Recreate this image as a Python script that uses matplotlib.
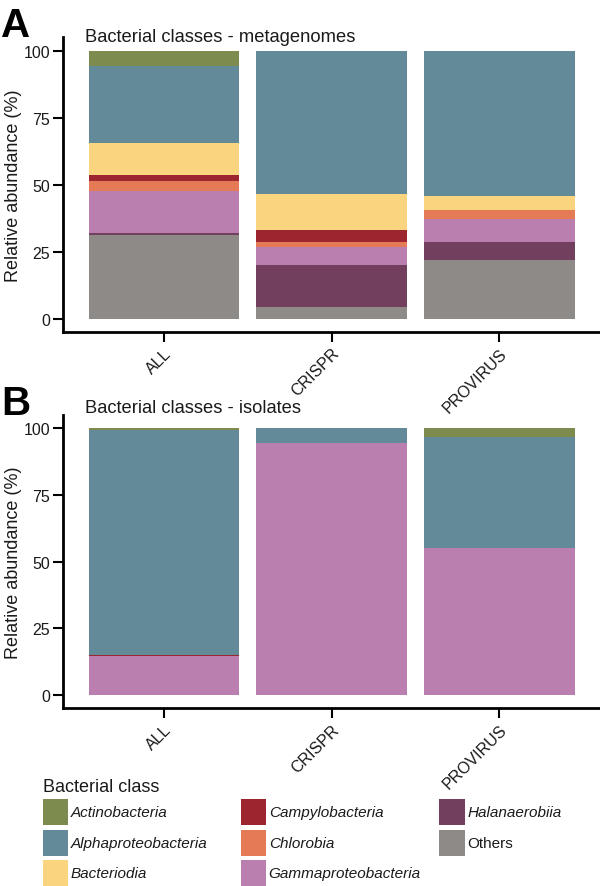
import numpy as np
import matplotlib.pyplot as plt
from matplotlib.patches import Rectangle

plt.rcParams['font.family'] = ['Liberation Sans', 'DejaVu Sans']

groups = ["ALL", "CRISPR", "PROVIRUS"]
classes = ["Actinobacteria", "Alphaproteobacteria", "Bacteriodia",
           "Campylobacteria", "Chlorobia", "Gammaproteobacteria",
           "Halanaerobiia", "Others"]
class_colors = ["#7e8b4f", "#628a99", "#fad47e", "#9d2530",
                "#e57b56", "#ba7faf", "#723f5e", "#8e8a87"]

# relative abundance (%), one value per class in the order above
meta_all = [5.9, 28.6, 12.0, 2.0, 4.0, 15.5, 1.0, 31.0]
meta_crispr = [0.0, 53.4, 13.4, 4.5, 2.1, 6.8, 15.4, 4.4]
meta_provirus = [0.0, 54.2, 5.3, 0.0, 3.5, 8.3, 6.8, 21.9]

iso_all = [0.7, 84.4, 0.0, 0.3, 0.0, 14.6, 0.0, 0.0]
iso_crispr = [0.0, 5.5, 0.0, 0.0, 0.0, 94.5, 0.0, 0.0]
iso_provirus = [3.4, 41.5, 0.0, 0.0, 0.0, 55.1, 0.0, 0.0]

W, H = 600, 887
fig = plt.figure(figsize=(W / 100, H / 100), dpi=100)


def px(x, y):
    # pixel position (from top-left) -> figure fraction
    return x / W, 1 - y / H


def draw_panel(top_px, bottom_px, columns, title, letter, title_y, letter_y):
    ax = fig.add_axes([63.4 / W, 1 - bottom_px / H, 1 - 63.4 / W, (bottom_px - top_px) / H])
    x = np.arange(1, len(groups) + 1)
    bottom = np.zeros(len(groups))
    # ggplot stacks the first level on top, so draw from the last class up
    for i in reversed(range(len(classes))):
        vals = np.array([col[i] for col in columns])
        ax.bar(x, vals, width=0.9, bottom=bottom, color=class_colors[i], linewidth=0)
        bottom += vals
    ax.set_xlim(0.4, 3.6)
    ax.set_ylim(-5, 105)
    ax.set_yticks([0, 25, 50, 75, 100])
    ax.set_xticks(x)
    ax.set_xticklabels(groups, rotation=45, ha='right', va='top', rotation_mode='anchor')
    for s in ['top', 'right']:
        ax.spines[s].set_visible(False)
    for s in ['left', 'bottom']:
        ax.spines[s].set_linewidth(2)
    ax.tick_params(length=7, width=1.5, labelsize=11.5, pad=2.5, labelcolor='#1a1a1a')
    fig.text(*px(85, title_y), title, fontsize=13.2, va='baseline', color='#1a1a1a')
    fig.text(*px(1, letter_y), letter, fontsize=29, fontweight='bold', va='baseline')
    fig.text(*px(14, (top_px + bottom_px) / 2), 'Relative abundance (%)', rotation=90,
             ha='center', va='center', fontsize=13, color='#1a1a1a')
    return ax


draw_panel(38.3, 332.9, [meta_all, meta_crispr, meta_provirus],
           "Bacterial classes - metagenomes", "A", 41.7, 36.7)
draw_panel(416.0, 709.3, [iso_all, iso_crispr, iso_provirus],
           "Bacterial classes - isolates", "B", 413.3, 415.0)

# --- legend, laid out like the ggplot guide ---
fig.text(*px(43.3, 792), "Bacterial class", fontsize=13, va='baseline', color='#1a1a1a')
col_x = [42.7, 240.7, 439.3]
row_y = [813.3, 843.6, 874.0]
for i, (name, c) in enumerate(zip(classes, class_colors)):
    cx = col_x[i // 3]
    cy = row_y[i % 3]
    x0, y0 = px(cx, cy + 13)
    fig.add_artist(Rectangle((x0, y0), 25.6 / W, 26 / H, transform=fig.transFigure,
                             facecolor=c, edgecolor='none'))
    fig.text(*px(cx + 28, cy), name, fontsize=11, va='center', color='#1a1a1a',
             fontstyle='normal' if name == "Others" else 'italic')

fig.savefig("out.png", dpi=100)
